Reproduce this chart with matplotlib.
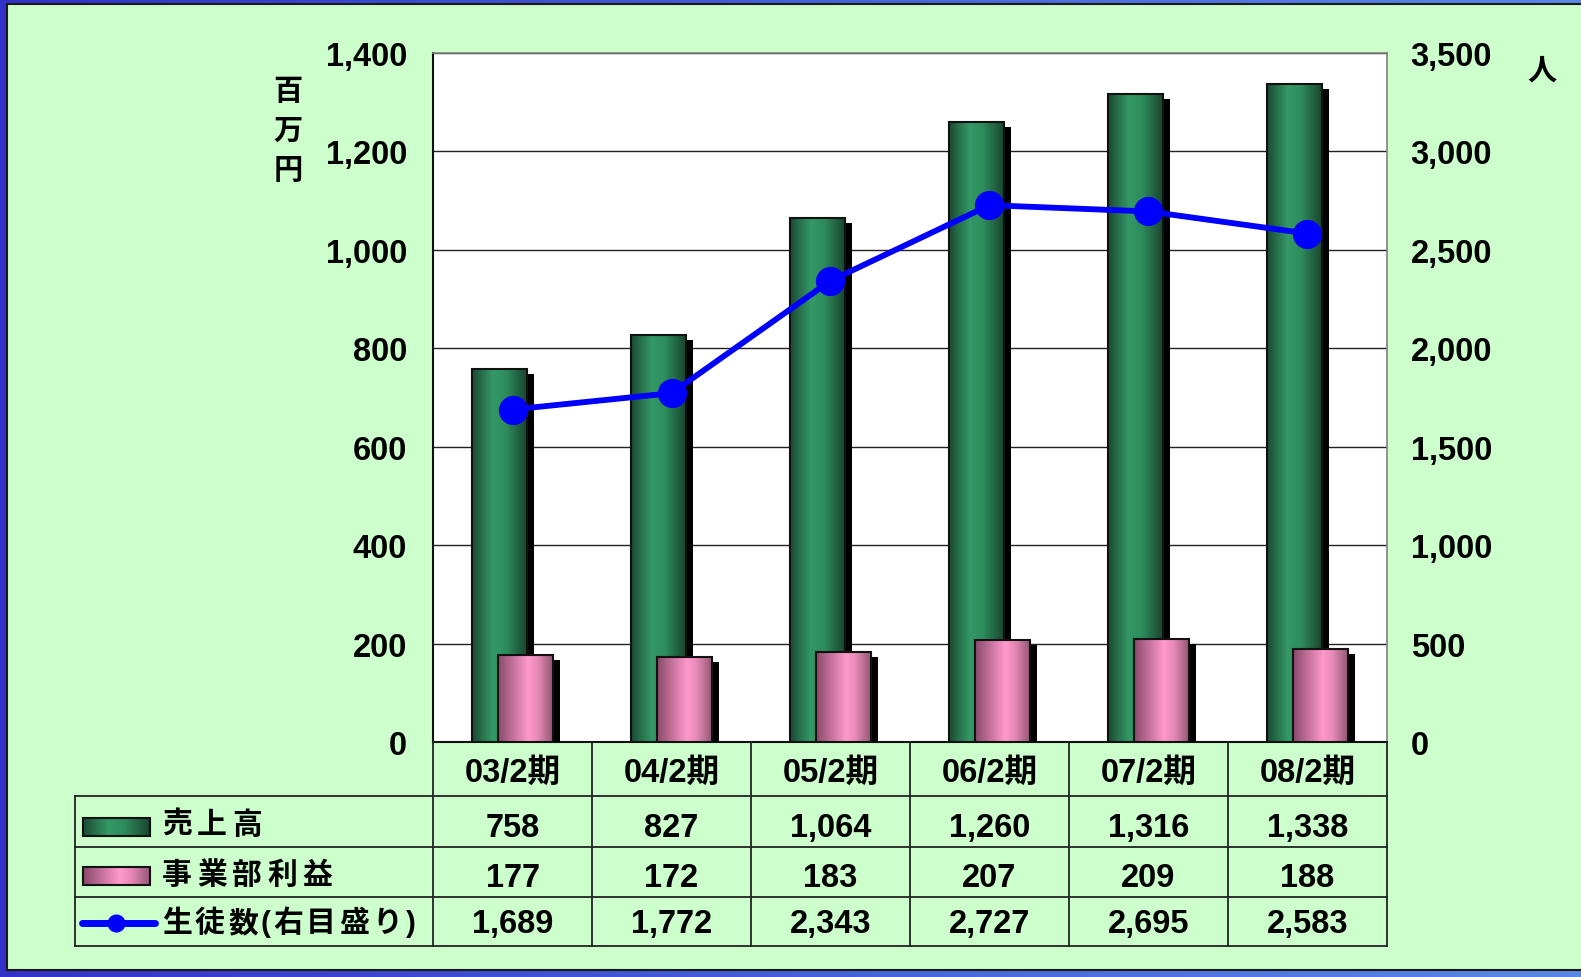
import numpy as np
import matplotlib
matplotlib.use('Agg')
import matplotlib.pyplot as plt
import matplotlib.transforms as mtransforms
from matplotlib.colors import LinearSegmentedColormap
from matplotlib.patches import Rectangle

plt.rcParams['font.family'] = ['Liberation Sans', 'Noto Sans CJK JP', 'DejaVu Sans']
plt.rcParams['font.weight'] = 'bold'

# データ
kikan = ['03/2期', '04/2期', '05/2期', '06/2期', '07/2期', '08/2期']
uriage = [758, 827, 1064, 1260, 1316, 1338]
rieki = [177, 172, 183, 207, 209, 188]
seito = [1689, 1772, 2343, 2727, 2695, 2583]
left_ticks = [0, 200, 400, 600, 800, 1000, 1200, 1400]
right_ticks = [0, 500, 1000, 1500, 2000, 2500, 3000, 3500]
row_labels = ['売上高', '事業部利益', '生徒数(右目盛り)']

W, H = 1581, 978
FS = 23.5
fig = plt.figure(figsize=(W / 100, H / 100), dpi=100)

# 背景 (青い枠 + 薄緑)
bg = fig.add_axes([0, 0, 1, 1], zorder=0)
bg.axis('off')
blue_cm = LinearSegmentedColormap.from_list('blue', ['#3232c8', '#4560d8', '#5a88e6'])
bg.imshow(np.linspace(0, 1, 256)[None, :], cmap=blue_cm, extent=[0, W, H, 0], aspect='auto')
bg.add_patch(Rectangle((7, 5), W, 966, facecolor='#ccffcc', edgecolor='#1a1a1a', lw=1.5))
bg.set_xlim(0, W)
bg.set_ylim(H, 0)

green_cm = LinearSegmentedColormap.from_list('g', [(0, '#1c4a33'), (0.38, '#339966'),
                                                   (0.62, '#2e8c5c'), (1, '#1a4530')])
pink_cm = LinearSegmentedColormap.from_list('p', [(0, '#8a4a6a'), (0.55, '#ff99cc'),
                                                  (0.72, '#e88ab8'), (1, '#945874')])

# グラフ本体
ax = fig.add_axes([433 / W, (H - 743) / H, 954 / W, 689 / H], zorder=1)
ax.set_facecolor('white')
x = np.arange(len(kikan))
w = 0.345
off_g, off_p = -0.08, 0.08
shadow = mtransforms.offset_copy(ax.transData, fig=fig, x=7, y=-5, units='dots')
grad = np.linspace(0, 1, 200)[None, :]

for xi, v in zip(x, uriage):
    x0 = xi + off_g - w / 2
    ax.bar(xi + off_g, v, w, color='black', transform=shadow, zorder=2)
    ax.imshow(grad, cmap=green_cm, extent=[x0, x0 + w, 0, v], aspect='auto', zorder=3)
    ax.bar(xi + off_g, v, w, fill=False, edgecolor='#111111', lw=1.5, zorder=3.5)

for xi, v in zip(x, rieki):
    x0 = xi + off_p - w / 2
    ax.bar(xi + off_p, v, w, color='black', transform=shadow, zorder=4)
    ax.imshow(grad, cmap=pink_cm, extent=[x0, x0 + w, 0, v], aspect='auto', zorder=5)
    ax.bar(xi + off_p, v, w, fill=False, edgecolor='#111111', lw=1.5, zorder=5.5)

ax.set_xlim(-0.5, len(kikan) - 0.5)
ax.set_ylim(0, 1400)
ax.set_yticks(left_ticks)
ax.set_yticklabels([f'{v:,}' for v in left_ticks], fontsize=FS, fontweight='bold')
ax.set_xticks([])
ax.tick_params(axis='y', length=0, pad=18.5)
ax.yaxis.grid(True, color='#222222', lw=1)
ax.set_axisbelow(True)
for s in ['top', 'right']:
    ax.spines[s].set_color('#808080')
    ax.spines[s].set_linewidth(1.2)
for s in ['left', 'bottom']:
    ax.spines[s].set_color('#111111')
    ax.spines[s].set_linewidth(1.5)

ax2 = ax.twinx()
ax2.plot(x, seito, color='#0000ff', lw=4.2, marker='o', ms=20, zorder=6)
ax2.set_ylim(0, 3500)
ax2.set_yticks(right_ticks)
ax2.set_yticklabels([f'{v:,}' for v in right_ticks], fontsize=FS, fontweight='bold')
ax2.tick_params(axis='y', length=0, pad=17)
for s in ax2.spines.values():
    s.set_visible(False)

# 単位
for k, ch in enumerate('百万円'):
    fig.text(288 / W, 1 - (92 + k * 39.5) / H, ch, fontsize=21, fontweight='bold',
             ha='center', va='center')
fig.text(1542 / W, 1 - 72 / H, '人', fontsize=21, fontweight='bold', ha='center', va='center')

# データテーブル
tb = fig.add_axes([0, 0, 1, 1], zorder=3)
tb.axis('off')
tb.patch.set_alpha(0)
tr = mtransforms.blended_transform_factory(ax.transData, tb.transData)

lc = '#222222'
for yy in [797, 848, 898, 947]:
    tb.plot([75, 1387], [yy, yy], color=lc, lw=1.3)
tb.plot([75, 75], [797, 947], color=lc, lw=1.3)
for k in range(len(kikan) + 1):
    tb.plot([k - 0.5, k - 0.5], [743, 947], color=lc, lw=1.3, transform=tr)

for xi, lab in zip(x, kikan):
    tb.text(xi, 782, lab, transform=tr, ha='center', va='baseline', fontsize=FS, fontweight='bold')
for vals, base in [(uriage, 837), (rieki, 887), (seito, 933)]:
    for xi, v in zip(x, vals):
        tb.text(xi, base, f'{v:,}', transform=tr, ha='center', va='baseline',
                fontsize=FS, fontweight='bold')

# 凡例キー
tb.imshow(grad, cmap=green_cm, extent=[83, 150, 837, 819], aspect='auto', zorder=4)
tb.add_patch(Rectangle((83, 819), 67, 18, fill=False, edgecolor='#111111', lw=1.5, zorder=5))
tb.imshow(grad, cmap=pink_cm, extent=[83, 150, 886, 868], aspect='auto', zorder=4)
tb.add_patch(Rectangle((83, 868), 67, 18, fill=False, edgecolor='#111111', lw=1.5, zorder=5))
tb.plot([82, 155], [924, 924], color='#0000ff', lw=5, solid_capstyle='round', zorder=5)
tb.plot([116], [924], marker='o', ms=12, color='#0000ff', zorder=6)
tb.set_xlim(0, W)
tb.set_ylim(H, 0)


def put_label(text, x0, yc, pitch, narrow):
    xx = x0
    for ch in text:
        tb.text(xx, yc, ch, ha='left', va='center', fontsize=21.5, fontweight='bold')
        xx += narrow if ch in '()' else pitch


put_label(row_labels[0], 162, 826, 35, 12)
put_label(row_labels[1], 162, 876, 35, 12)
put_label(row_labels[2], 162, 924, 33, 12)

fig.savefig('out.png', dpi=100)
